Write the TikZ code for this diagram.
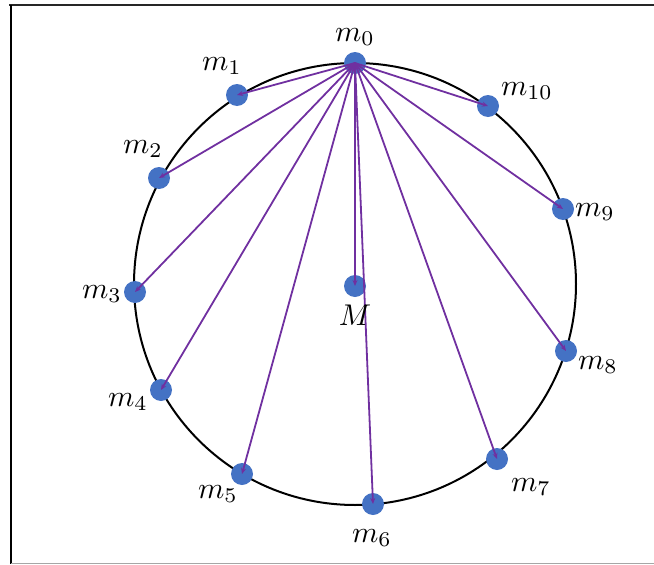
\documentclass[tikz,border=0pt]{standalone}
\usetikzlibrary{arrows.meta}
\definecolor{dotblue}{HTML}{4472C4}
\definecolor{linepurple}{HTML}{7030A0}
\begin{document}
\begin{tikzpicture}[x=1pt,y=-1pt,
  dot/.style={circle,fill=dotblue,minimum size=22pt,inner sep=0pt},
  lab/.style={scale=3,inner sep=0pt},
  ray/.style={draw=linepurple,line width=1.8pt,-{Stealth[length=6pt,width=5pt]}}]
\useasboundingbox (0,0) rectangle (654,565);
% frame
\draw[line width=2.2pt,black!85] (9,5) -- (654,5);
\draw[line width=2.6pt,black] (11,5) -- (11,564);
\draw[line width=1pt,black!35] (11,563.5) -- (654,563.5);
% circle
\draw[line width=2pt] (355,284) circle[radius=221];
% dots
\node[dot] (m0) at (355,63) {};
\node[dot] (m1) at (237,95) {};
\node[dot] (m2) at (159,178) {};
\node[dot] (m3) at (135,292) {};
\node[dot] (m4) at (161,390) {};
\node[dot] (m5) at (242,474) {};
\node[dot] (m6) at (373,504) {};
\node[dot] (m7) at (497,459) {};
\node[dot] (m8) at (566,351) {};
\node[dot] (m9) at (563,209) {};
\node[dot] (m10) at (488,106) {};
\node[dot] (M) at (355,286) {};
% rays
\foreach \t in {m1,m2,m3,m4,m5,m6,m7,m8,m9,m10,M}
  \draw[ray] (m0.center) -- (\t.center);
% labels
\node[lab] (l0) at (355,37) {$m_0$};
\node[lab] (l1) at (222,66) {$m_1$};
\node[lab] (l2) at (143,149) {$m_2$};
\node[lab] (l3) at (102,294) {$m_3$};
\node[lab] (l4) at (128,402) {$m_4$};
\node[lab] (l5) at (218,494) {$m_5$};
\node[lab] (l6) at (372,538) {$m_6$};
\node[lab] (l7) at (531,487) {$m_7$};
\node[lab] (l8) at (598,365) {$m_8$};
\node[lab] (l9) at (595,212) {$m_9$};
\node[lab] (l10) at (527,91) {$m_{10}$};
\node[lab] (lM) at (355,315) {$M$};
\end{tikzpicture}
\end{document}
